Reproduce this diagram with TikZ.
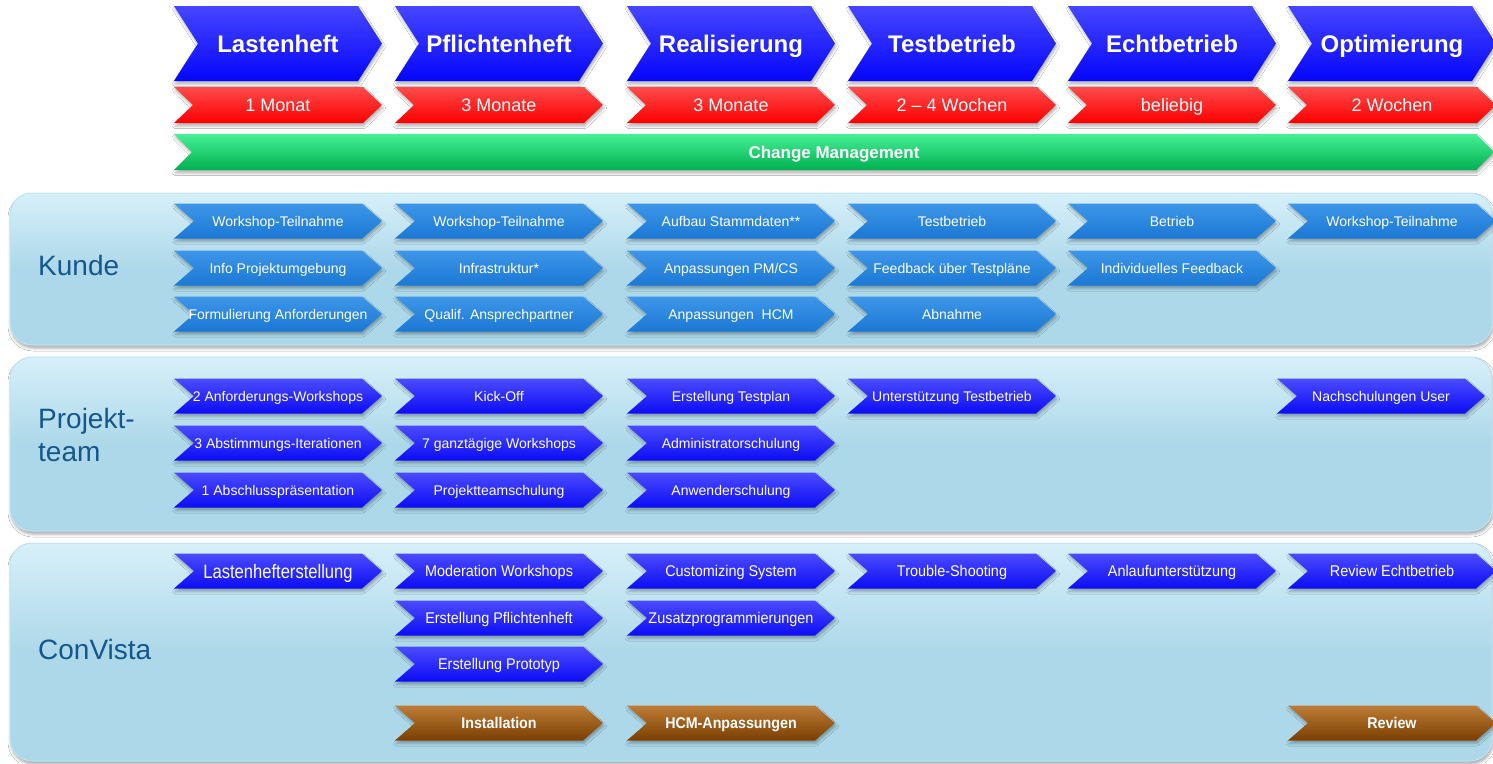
\documentclass[tikz,border=0pt]{standalone}
\usepackage{fontspec}
\setmainfont{Liberation Sans}
\usepackage{graphicx}
\usetikzlibrary{shadows.blur}
\definecolor{topblue}{RGB}{5,5,250}
\definecolor{topbluelt}{RGB}{70,70,255}
\definecolor{durred}{RGB}{250,0,0}
\definecolor{durredlt}{RGB}{255,75,75}
\definecolor{cmgreen}{RGB}{0,176,80}
\definecolor{cmgreenlt}{RGB}{70,240,150}
\definecolor{kblue}{RGB}{26,120,212}
\definecolor{kbluelt}{RGB}{62,150,232}
\definecolor{pblue}{RGB}{12,12,245}
\definecolor{pbluelt}{RGB}{75,75,255}
\definecolor{brn}{RGB}{122,62,0}
\definecolor{brnlt}{RGB}{190,125,55}
\definecolor{lanefill}{RGB}{173,216,233}
\definecolor{lanelt}{RGB}{215,240,250}
\definecolor{laneedge}{RGB}{190,228,242}
\definecolor{lanetext}{RGB}{20,87,140}
\tikzset{
  shd/.style={blur shadow={shadow xshift=1pt,shadow yshift=-3pt,shadow blur radius=2.5pt,shadow opacity=30}},
  fTop/.style={shd,top color=topbluelt,middle color=topblue,bottom color=topblue},
  fDur/.style={shd,top color=durredlt,middle color=durred,bottom color=durred},
  fCm/.style={shd,top color=cmgreenlt,middle color=cmgreen,bottom color=cmgreen},
  fK/.style={shd,top color=kbluelt,middle color=kblue,bottom color=kblue},
  fP/.style={shd,top color=pbluelt,middle color=pblue,bottom color=pblue},
  fB/.style={shd,top color=brnlt,middle color=brn,bottom color=brn},
  tTop/.style={text=white,font=\fontsize{24}{28}\selectfont\bfseries,inner sep=0pt,text height=22pt,text depth=5pt},
  tDur/.style={text=white,font=\fontsize{18}{21}\selectfont,inner sep=0pt,text height=16.9pt,text depth=4pt},
  tCm/.style={text=white,font=\fontsize{17}{20}\selectfont\bfseries,inner sep=0pt,text height=16.2pt,text depth=4pt},
  tSm/.style={text=white,font=\fontsize{14}{16}\selectfont,inner sep=0pt,text height=13pt,text depth=3pt},
  tSmC/.style={text=white,font=\fontsize{15.5}{17}\selectfont,inner sep=0pt,text height=14.1pt,text depth=3pt},
  tSmL/.style={text=white,font=\fontsize{19.5}{22}\selectfont,inner sep=0pt,text height=17pt,text depth=3pt},
  tBr/.style={text=white,font=\fontsize{15.5}{17}\selectfont\bfseries,inner sep=0pt,text height=14.1pt,text depth=3pt},
  lane/.style={draw=laneedge,line width=1pt,rounded corners=22pt,
    top color=lanelt,bottom color=lanefill,middle color=lanefill,
    blur shadow={shadow xshift=1pt,shadow yshift=-3pt,shadow blur radius=3pt,shadow opacity=35}},
  lanelabel/.style={anchor=west,text=lanetext,font=\fontsize{28}{33}\selectfont,inner sep=0pt,align=left}
}
% name, x, ycenter, w, h, d, fillstyle, textstyle, text
\newcommand\chv[9]{%
  \path[#7] (#2,#3-#5/2) -- ++(#4-#6,0) -- ++(#6,#5/2) -- ++(-#6,#5/2) -- ++(-#4+#6,0) -- ++(#6,-#5/2) -- cycle;
  \node[#8] (#1) at (#2+#4/2,#3) {#9};}
\newcommand\smK[4]{\chv{#1}{#2}{#3}{208}{35}{20}{fK}{tSm}{#4}}
\newcommand\smP[4]{\chv{#1}{#2}{#3}{208}{35}{20}{fP}{tSm}{#4}}
\newcommand\smC[4]{\chv{#1}{#2}{#3}{208}{35}{20}{fP}{tSmC}{\scalebox{0.93}[1]{#4}}}
\newcommand\smB[4]{\chv{#1}{#2}{#3}{208}{35}{20}{fB}{tBr}{\scalebox{0.92}[1]{#4}}}
\begin{document}
\begin{tikzpicture}[x=1pt,y=-1pt]
\useasboundingbox (0,0) rectangle (1493,763);
\fill[white] (0,0) rectangle (1493,763);
% phases
\chv{ph1}{174}{43.5}{208}{75}{24}{fTop}{tTop}{Lastenheft}
\chv{ph2}{395}{43.5}{208}{75}{24}{fTop}{tTop}{Pflichtenheft}
\chv{ph3}{627}{43.5}{208}{75}{24}{fTop}{tTop}{Realisierung}
\chv{ph4}{848}{43.5}{208}{75}{24}{fTop}{tTop}{Testbetrieb}
\chv{ph5}{1068}{43.5}{208}{75}{24}{fTop}{tTop}{Echtbetrieb}
\chv{ph6}{1288}{43.5}{208}{75}{24}{fTop}{tTop}{Optimierung}
% durations
\chv{du1}{174}{105}{208}{36}{19}{fDur}{tDur}{1 Monat}
\chv{du2}{395}{105}{208}{36}{19}{fDur}{tDur}{3 Monate}
\chv{du3}{627}{105}{208}{36}{19}{fDur}{tDur}{3 Monate}
\chv{du4}{848}{105}{208}{36}{19}{fDur}{tDur}{2 – 4 Wochen}
\chv{du5}{1068}{105}{208}{36}{19}{fDur}{tDur}{beliebig}
\chv{du6}{1288}{105}{208}{36}{19}{fDur}{tDur}{2 Wochen}
% change management
\chv{cm}{174}{152}{1320}{36}{18}{fCm}{tCm}{Change Management}
% lanes
\path[lane] (10,193) rectangle (1492,345);
\path[lane] (10,357) rectangle (1492,531);
\path[lane] (10,543) rectangle (1492,761);
\node[lanelabel] (lk) at (38,265) {Kunde};
\node[lanelabel] (lp) at (38,434.5) {Projekt-\\team};
\node[lanelabel] (lc) at (38,649) {ConVista};
% Kunde
\smK{k11}{174}{221}{Workshop-Teilnahme}
\smK{k12}{174}{268}{Info Projektumgebung}
\smK{k13}{174}{314}{Formulierung Anforderungen}
\smK{k21}{395}{221}{Workshop-Teilnahme}
\smK{k22}{395}{268}{Infrastruktur*}
\smK{k23}{395}{314}{Qualif. Ansprechpartner}
\smK{k31}{627}{221}{Aufbau Stammdaten**}
\smK{k32}{627}{268}{Anpassungen PM/CS}
\smK{k33}{627}{314}{Anpassungen\ \ HCM}
\smK{k41}{848}{221}{Testbetrieb}
\smK{k42}{848}{268}{Feedback über Testpläne}
\smK{k43}{848}{314}{Abnahme}
\smK{k51}{1068}{221}{Betrieb}
\smK{k52}{1068}{268}{Individuelles Feedback}
\smK{k61}{1288}{221}{Workshop-Teilnahme}
% Projektteam
\smP{p11}{174}{396}{2 Anforderungs-Workshops}
\smP{p12}{174}{443}{3 Abstimmungs-Iterationen}
\smP{p13}{174}{490}{1 Abschlusspräsentation}
\smP{p21}{395}{396}{Kick-Off}
\smP{p22}{395}{443}{7 ganztägige Workshops}
\smP{p23}{395}{490}{Projektteamschulung}
\smP{p31}{627}{396}{Erstellung Testplan}
\smP{p32}{627}{443}{Administratorschulung}
\smP{p33}{627}{490}{Anwenderschulung}
\smP{p41}{848}{396}{Unterstützung Testbetrieb}
\smP{p61}{1277}{396}{Nachschulungen User}
% ConVista
\chv{c11}{174}{571}{208}{35}{20}{fP}{tSmL}{\scalebox{0.85}[1]{Lastenhefterstellung}}
\smC{c21}{395}{571}{Moderation Workshops}
\smC{c22}{395}{618}{Erstellung Pflichtenheft}
\smC{c23}{395}{664}{Erstellung Prototyp}
\smB{c24}{395}{723}{Installation}
\smC{c31}{627}{571}{Customizing System}
\smC{c32}{627}{618}{Zusatzprogrammierungen}
\smB{c34}{627}{723}{HCM-Anpassungen}
\smC{c41}{848}{571}{Trouble-Shooting}
\smC{c51}{1068}{571}{Anlaufunterstützung}
\smC{c61}{1288}{571}{Review Echtbetrieb}
\smB{c64}{1288}{723}{Review}
\end{tikzpicture}
\end{document}
